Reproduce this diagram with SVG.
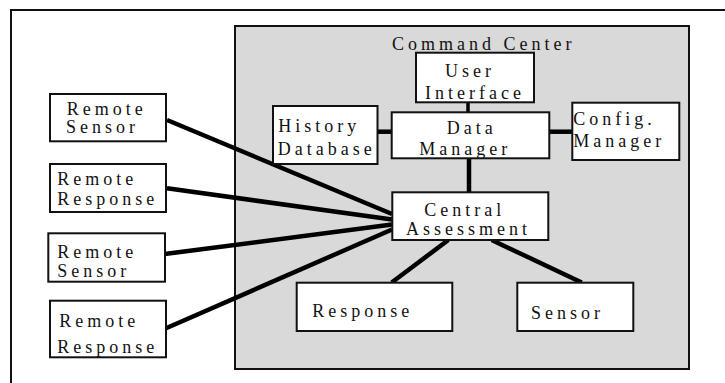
<svg xmlns="http://www.w3.org/2000/svg" width="725" height="383" viewBox="0 0 725 383">
<style>
.box{fill:#fff;stroke:#111;stroke-width:2}
.t{font-family:"Liberation Serif","Times New Roman",serif;font-size:18px;letter-spacing:4px;fill:#111}
.c{stroke:#000;stroke-width:4.5;stroke-linecap:butt;fill:none}
</style>
<rect x="0" y="0" width="725" height="383" fill="#fff"/>
<rect x="11" y="10" width="730" height="390" fill="none" stroke="#111" stroke-width="2"/>
<g id="command-center">
<rect x="235" y="26" width="454" height="343" fill="#d9d9d9" stroke="#111" stroke-width="2"/>
<text class="t" x="392" y="50">Command Center</text>
</g>
<g id="connectors">
<line class="c" x1="468" y1="102" x2="468" y2="112" style="stroke-width:3.5"/>
<line class="c" x1="377" y1="131.7" x2="392" y2="131.7"/>
<line class="c" x1="549" y1="131.7" x2="572" y2="131.7"/>
<line class="c" x1="469" y1="158" x2="469" y2="192"/>
<line class="c" x1="167" y1="120" x2="392" y2="214"/>
<line class="c" x1="167" y1="188.3" x2="392" y2="219.5"/>
<line class="c" x1="162.7" y1="254.3" x2="392" y2="224.5"/>
<line class="c" x1="166" y1="328.3" x2="392" y2="229.5"/>
<line class="c" x1="448.3" y1="240" x2="391.7" y2="282.5"/>
<line class="c" x1="491.7" y1="240" x2="581.7" y2="282.5"/>
</g>
<g id="user-interface">
<rect class="box" x="416" y="52.7" width="118" height="49.6"/>
<text class="t" x="445" y="76.7">User</text>
<text class="t" x="425" y="99">Interface</text>
</g>
<g id="data-manager">
<rect class="box" x="391.7" y="112.3" width="157.6" height="46"/>
<text class="t" x="446.7" y="134.3">Data</text>
<text class="t" x="419.3" y="155">Manager</text>
</g>
<g id="history-database">
<rect class="box" x="273" y="106" width="104.5" height="58"/>
<text class="t" x="278.3" y="131.7">History</text>
<text class="t" x="277.7" y="155">Database</text>
</g>
<g id="config-manager">
<rect class="box" x="572.3" y="102.7" width="107" height="57.3"/>
<text class="t" x="573.3" y="125">Config.</text>
<text class="t" x="573.3" y="146.7">Manager</text>
</g>
<g id="central-assessment">
<rect class="box" x="392.3" y="192.3" width="156" height="47.7"/>
<text class="t" x="424.3" y="216">Central</text>
<text class="t" x="406" y="235">Assessment</text>
</g>
<g id="response">
<rect class="box" x="296.7" y="282.7" width="155.6" height="48.3"/>
<text class="t" x="312.3" y="316.7">Response</text>
</g>
<g id="sensor">
<rect class="box" x="517.3" y="282.7" width="116" height="48.3"/>
<text class="t" x="531" y="319">Sensor</text>
</g>
<g id="remote-sensor-1">
<rect class="box" x="50" y="94" width="116" height="47.3"/>
<text class="t" x="66.7" y="114.7">Remote</text>
<text class="t" x="66" y="133">Sensor</text>
</g>
<g id="remote-response-1">
<rect class="box" x="50" y="164" width="116" height="48"/>
<text class="t" x="57.3" y="185.3">Remote</text>
<text class="t" x="57.3" y="205.3">Response</text>
</g>
<g id="remote-sensor-2">
<rect class="box" x="48.3" y="233.3" width="116.7" height="48.4"/>
<text class="t" x="57.3" y="258.3">Remote</text>
<text class="t" x="57.3" y="277.3">Sensor</text>
</g>
<g id="remote-response-2">
<rect class="box" x="50" y="300.7" width="116" height="56.6"/>
<text class="t" x="59.3" y="326.7">Remote</text>
<text class="t" x="57.3" y="352.7">Response</text>
</g>
</svg>
